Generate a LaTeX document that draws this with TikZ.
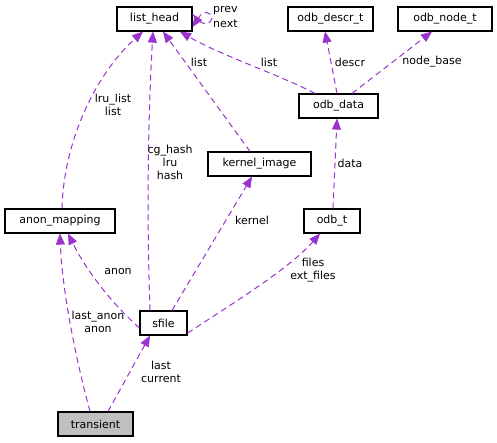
\documentclass[tikz,border=0pt]{standalone}
\usepackage{fontspec}
\setmainfont{DejaVu Sans}
\usetikzlibrary{arrows.meta,calc}
\definecolor{edgec}{HTML}{9A32CD}
\definecolor{hilite}{HTML}{BFBFBF}
\begin{document}
\begin{tikzpicture}[x=1pt,y=-1pt,
  every node/.style={font=\fontsize{11}{13}\selectfont},
  cls/.style={draw=black,line width=1.1pt,minimum height=24pt,inner sep=0pt,fill=white},
  lbl/.style={align=center,inner sep=0pt},
  rel/.style={draw=edgec,line width=1pt,dash pattern=on 6pt off 4pt,
    -{Triangle[length=11pt,width=9pt,fill=edgec,line width=0.6pt,sep=0pt]}},
]
\useasboundingbox (0,0) rectangle (497,443);
\node[cls,minimum width=75pt] (lh) at (154.5,19) {list\_head};
\node[cls,minimum width=85pt] (odesc) at (330.5,19) {odb\_descr\_t};
\node[cls,minimum width=94pt] (onode) at (445,19) {odb\_node\_t};
\node[cls,minimum width=79pt] (odata) at (338.5,106) {odb\_data};
\node[cls,minimum width=103pt] (kimg) at (259.5,164) {kernel\_image};
\node[cls,minimum width=56pt] (odbt) at (332,221) {odb\_t};
\node[cls,minimum width=47pt] (sf) at (163.5,323) {sfile};
\node[cls,minimum width=110pt] (anon) at (60,221) {anon\_mapping};
\node[cls,minimum width=75pt,fill=hilite] (tr) at (95.5,424) {transient};

% self loop
\draw[rel] ([yshift=5pt]lh.east) .. controls (204,30) and (212,22) .. (212,18) .. controls (212,13) and (204,9) .. ([yshift=-8pt]lh.east);
\node[lbl,anchor=west] (lprev) at (213,11) {prev};
\node[lbl,anchor=west] (lnext) at (213,24) {next};

% to list_head
\draw[rel] ([xshift=2pt]anon.north) .. controls (64,135) and (100,70) .. ([xshift=-11.5pt]lh.south);
\draw[rel] ([xshift=-13.5pt]sf.north) .. controls (146,200) and (149,100) .. ([xshift=-1.5pt]lh.south);
\draw[rel] ([xshift=-9.5pt]kimg.north) -- ([xshift=8.5pt]lh.south);
\draw[rel] ([xshift=-23.5pt]odata.north) .. controls (280,75) and (220,55) .. ([xshift=25.5pt]lh.south);
\node[lbl] (l1) at (113,105) {lru\_list\\list};
\node[lbl] (l2) at (170,162) {cg\_hash\\lru\\hash};
\node[lbl] (l3) at (199,62) {list};
\node[lbl] (l4) at (269,62) {list};

% odb_data
\draw[rel] ([xshift=-1.5pt]odata.north) -- ([xshift=-5.5pt]odesc.south);
\draw[rel] ([xshift=13.5pt]odata.north) -- ([xshift=-13pt]onode.south);
\node[lbl] (l5) at (350,62) {descr};
\node[lbl] (l6) at (432,62) {node\_base};

\draw[rel] ([xshift=1pt]odbt.north) -- ([xshift=-1.5pt]odata.south);
\node[lbl] (l7) at (350,163) {data};

% sfile
\draw[rel] ([xshift=8.5pt]sf.north) -- ([xshift=-7.5pt]kimg.south);
\node[lbl] (l8) at (252,220) {kernel};
\draw[rel] ([yshift=-10pt]sf.east) .. controls (235,302) and (290,268) .. ([xshift=-12pt]odbt.south);
\node[lbl] (l9) at (313,270) {files\\ext\_files};
\draw[rel] ([yshift=-5pt]sf.west) .. controls (110,302) and (85,268) .. ([xshift=8pt]anon.south);
\node[lbl] (l10) at (118,271) {anon};

% transient
\draw[rel] ([xshift=-5.5pt]tr.north) .. controls (76,360) and (62,290) .. (anon.south);
\node[lbl] (l11) at (98,322) {last\_anon\\anon};
\draw[rel] ([xshift=12.5pt]tr.north) -- ([xshift=-13.5pt]sf.south);
\node[lbl] (l12) at (161,372) {last\\current};
\end{tikzpicture}
\end{document}
